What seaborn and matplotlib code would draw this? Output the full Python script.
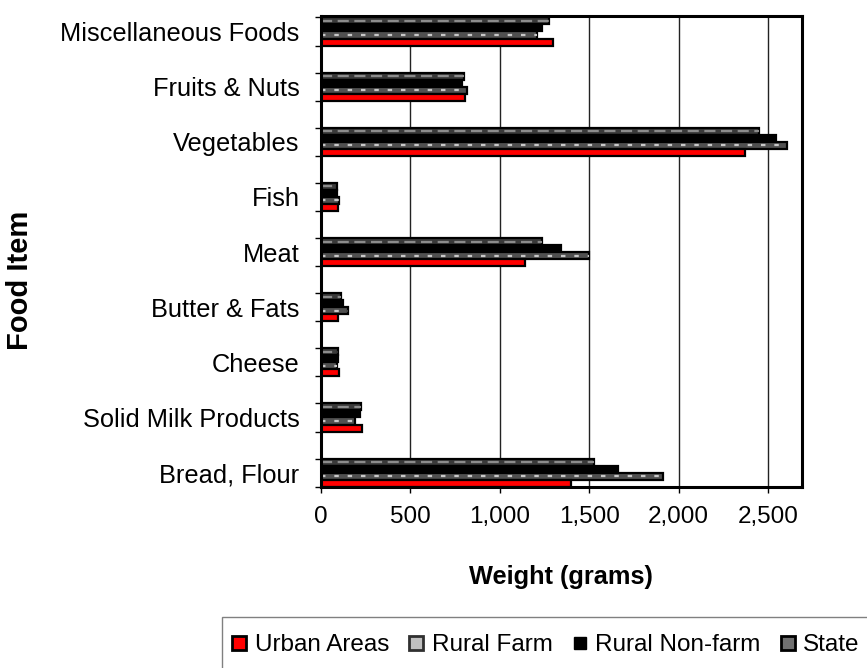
import matplotlib
matplotlib.use("Agg")
import matplotlib.pyplot as plt
import seaborn as sns
import pandas as pd
from matplotlib.lines import Line2D
from matplotlib.patches import Rectangle
from matplotlib.ticker import FuncFormatter

# Average weekly consumption per person, by food item and area
foods = ["Miscellaneous Foods", "Fruits & Nuts", "Vegetables", "Fish", "Meat",
         "Butter & Fats", "Cheese", "Solid Milk Products", "Bread, Flour"]
urban = [1300, 805, 2370, 95, 1140, 95, 100, 232, 1400]
rural_farm = [1210, 815, 2605, 100, 1500, 150, 88, 192, 1915]
rural_nonfarm = [1235, 790, 2545, 90, 1340, 125, 95, 218, 1660]
state = [1275, 800, 2450, 90, 1235, 110, 95, 225, 1525]
groups = ["Urban Areas", "Rural Farm", "Rural Non-farm", "State"]
x_ticks = [0, 500, 1000, 1500, 2000, 2500]

series = dict(zip(groups, [urban, rural_farm, rural_nonfarm, state]))
df = pd.DataFrame(
    [(f, g, v) for g in groups for f, v in zip(foods, series[g])],
    columns=["Food", "Group", "Weight"],
)

sns.set_theme(style="white")
plt.rcParams["font.family"] = ["Liberation Sans", "DejaVu Sans"]
plt.rcParams["text.color"] = "black"
plt.rcParams["xtick.color"] = "black"
plt.rcParams["ytick.color"] = "black"

# fill, dash colour, dash pattern
styles = {
    "Urban Areas": ("#ff0000", None, None),
    "Rural Farm": ("#505050", "#c8c8c8", (2.0, 4.0)),
    "Rural Non-farm": ("#000000", None, None),
    "State": ("#3a3a3a", "#8c8c8c", (5.0, 2.5)),
}

fig = plt.figure(figsize=(8.67, 6.68), dpi=100)
ax = fig.add_axes([0.3702, 0.2710, 0.5548, 0.705])

hue_order = groups[::-1]  # State drawn on top, Urban at the bottom of each group
sns.barplot(data=df, y="Food", x="Weight", hue="Group", order=foods,
            hue_order=hue_order, orient="h", width=0.51, errorbar=None,
            saturation=1, legend=False, ax=ax)

for g, cont in zip(hue_order, ax.containers):
    face, dash_col, dash = styles[g]
    for bar in cont:
        bar.set_facecolor(face)
        bar.set_edgecolor("black")
        bar.set_linewidth(1.6)
        bar.set_zorder(3)
        if dash_col is not None:
            yc = bar.get_y() + bar.get_height() / 2
            x0 = bar.get_x()
            ax.plot([x0, x0 + bar.get_width()], [yc, yc], color=dash_col,
                    lw=1.6, dashes=dash, solid_capstyle="butt",
                    dash_capstyle="butt", zorder=4)

ax.set_xlim(0, 2690)
ax.set_ylim(8.26, -0.28)
ax.set_xticks(x_ticks)
ax.xaxis.set_major_formatter(FuncFormatter(lambda v, p: f"{int(v):,}"))
ax.set_yticks(range(len(foods)))
ax.set_yticklabels(foods)
ax.set_yticks([i + d for i in range(len(foods)) for d in (-0.255, 0.255)], minor=True)

ax.grid(axis="x", color="#222222", lw=1.0, zorder=0)
ax.grid(axis="y", visible=False)
ax.set_axisbelow(True)

ax.tick_params(axis="y", which="major", length=0, pad=15.5, labelsize=18.3,
               labelcolor="black")
ax.tick_params(axis="y", which="minor", left=True, length=4, width=1,
               direction="out", color="black")
ax.tick_params(axis="x", which="major", bottom=True, length=4, width=1,
               direction="out", color="black", pad=10, labelsize=17.5,
               labelcolor="black")

for sp in ax.spines.values():
    sp.set_visible(True)
    sp.set_color("black")
    sp.set_linewidth(2.2)
    sp.set_zorder(5)

ax.set_xlabel("")
ax.set_ylabel("")
fig.text(561 / 867, 1 - 577 / 668, "Weight (grams)", ha="center", va="center",
         fontsize=18.3, fontweight="bold")
fig.text(20 / 867, 1 - 280 / 668, "Food Item", ha="center", va="center",
         rotation=90, fontsize=21, fontweight="bold")

# legend box, open past the right and bottom edges of the figure
fig.add_artist(Rectangle((222 / 867, -0.1), 1.0, 0.1 + (668 - 617) / 668,
                         transform=fig.transFigure, fill=False,
                         edgecolor="#808080", lw=1.0))

handles = [
    Line2D([], [], marker="s", ls="none", markersize=10, markerfacecolor="#ff0000",
           markeredgecolor="black", markeredgewidth=2),
    Line2D([], [], marker="s", ls="none", markersize=10, markerfacecolor="#c0c0c0",
           markeredgecolor="#303030", markeredgewidth=2),
    Line2D([], [], marker="s", ls="none", markersize=8, markerfacecolor="black",
           markeredgecolor="black", markeredgewidth=1),
    Line2D([], [], marker="s", ls="none", markersize=10, markerfacecolor="#707070",
           markeredgecolor="black", markeredgewidth=2),
]
leg = fig.legend(handles, groups, loc="center left",
                 bbox_to_anchor=(232 / 867, 1 - 645 / 668), ncol=4,
                 frameon=False, borderaxespad=0, borderpad=0,
                 handlelength=0.6, handletextpad=0.35, columnspacing=0.8,
                 fontsize=17.5)

fig.savefig("out.png", dpi=100)
